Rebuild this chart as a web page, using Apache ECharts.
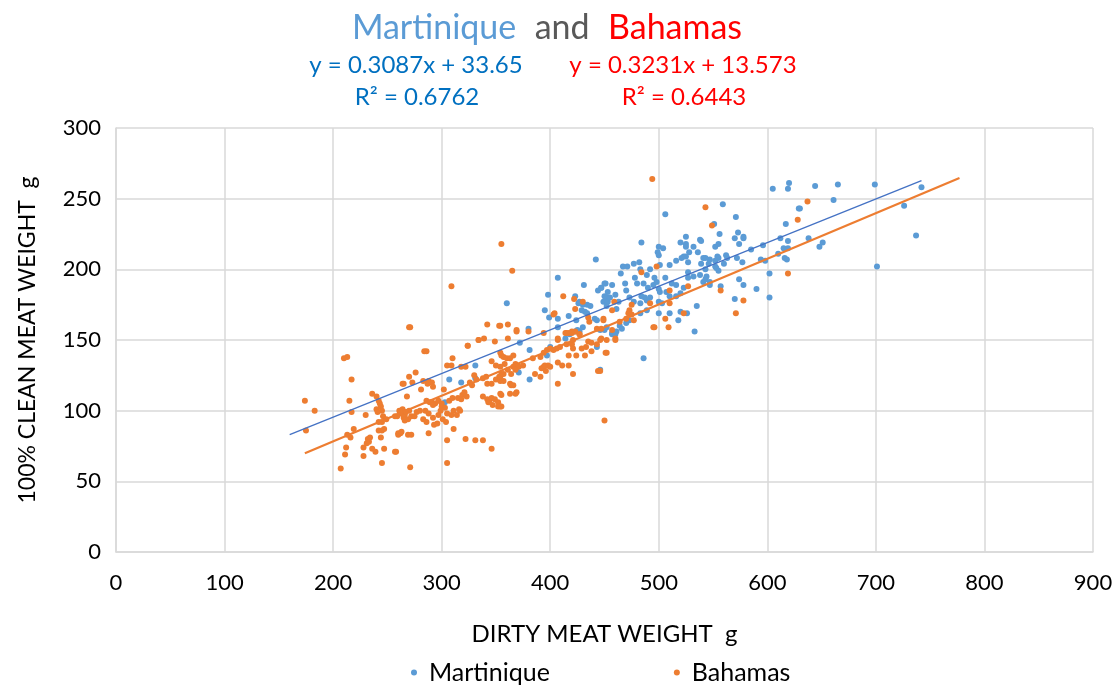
<!DOCTYPE html>
<html>
<head>
<meta charset="utf-8">
<script src="https://cdn.jsdelivr.net/npm/echarts@6/dist/echarts.min.js"></script>
<style>
  html, body { margin: 0; padding: 0; background: #fff; }
  #chart { width: 1117px; height: 690px; }
</style>
</head>
<body>
<div id="chart"></div>
<script>
// Dirty vs clean meat weight (g), one [dirty, clean] pair per animal
const martiniquePoints = [
  [307,122],[318,120],[331,123],[331,132],[303,106],
  [372,148],[381,143],[400,145],[397,139],[414,151],[418,154],[423,156],[427,156],[443,145],[446,129],
  [457,154],[461,156],[371,127],[369,130],[381,122],
  [442,207],[407,194],[398,182],[431,189],[444,185],[447,187],[451,190],[453,184],[452,180],[449,177],
  [423,181],[426,176],[427,177],[430,175],[434,175],[437,174],[434,169],[432,170],[429,171],[360,176],
  [395,171],[399,166],[407,165],[417,167],[407,159],[424,164],[380,158],[425,157],[430,159],
  [446,157],[450,157],[452,159],[443,164],[441,165],
  [506,239],[484,219],[525,223],[520,219],[525,218],[525,216],[532,216],[538,221],[539,220],[499,212],
  [500,210],[500,216],[504,215],[541,208],[523,209],[521,208],[525,209],[516,206],[510,203],[501,203],
  [492,200],[483,200],[477,204],[482,205],[467,202],[471,202],[527,205],[547,207],
  [527,198],[539,204],[546,204],
  [450,190],[457,189],[447,187],[450,181],[453,177],[455,180],[460,182],[452,174],[463,177],[461,172],
  [469,190],[470,185],[480,190],[478,194],[486,190],[490,187],[495,189],[498,191],[496,194],[500,186],
  [501,184],[507,184],[512,190],[516,189],[523,187],[527,194],[532,195],[538,196],[543,200],[541,191],
  [547,189],[544,195],
  [473,180],[477,177],[483,176],[484,181],[487,180],[489,178],[492,180],[500,177],[503,176],[510,181],
  [516,181],[520,183],[483,169],[489,171],[473,164],[470,162],[464,160],[466,158],[457,155],[460,154],
  [500,169],[510,169],[520,170],[526,169],[535,174],[518,164],[533,156],[486,137],
  [559,246],[571,237],[605,257],[619,257],[620,261],[629,243],[617,232],[619,220],[615,215],[619,215],
  [638,222],[551,232],[556,225],[555,218],[552,216],[570,222],[573,226],[578,223],[578,222],
  [574,218],[596,217],[543,208],[554,209],[555,208],[562,210],[563,208],[572,208],[577,205],
  [594,207],[610,211],[616,208],[618,207],[552,202],
  [552,206],[553,201],[555,199],[543,193],[547,191],[557,188],[574,193],[578,189],[590,186],[570,179],
  [602,197],[602,180],
  [644,259],[665,260],[699,260],[742,258],[661,249],[630,243],[726,245],[648,216],[651,219],[737,224],
  [701,202],[560,204],[585,214],[598,206],[612,222],[536,212],[528,212],[489,196],[465,197],[506,194]
];

const bahamasPoints = [
  [174,107],[175,86],[183,100],[210,137],[213,138],[217,122],[215,107],[217,99],[219,87],[213,83],
  [216,81],[212,74],[211,69],[207,59],[228,74],[228,68],[230,97],[232,80],[233,78],[231,77],
  [234,81],[236,73],[236,112],[239,71],[240,110],[242,107],[243,105],[244,103],[240,101],[245,100],
  [242,92],[245,92],[241,99],[246,96],[249,94],[242,86],[245,86],[247,87],[244,81],[245,63],
  [247,73],[258,71],[260,83],[262,84],[262,100],[264,98],[266,97],[264,119],[270,159],[268,110],
  [284,142],[286,142],[324,146],[334,150],[349,149],[310,137],[305,132],[309,132],[318,131],[322,131],
  [276,127],[270,124],[265,119],[273,120],[283,121],[288,121],[287,119],[291,120],[292,117],[302,115],
  [281,115],[286,107],[289,106],[291,106],[294,105],[297,107],[292,104],[300,105],[307,107],
  [310,109],[315,109],[319,111],[321,113],[323,110],[318,108],[328,118],[330,125],[326,120],[332,122],
  [338,123],[341,124],[346,135],[350,132],[355,139],[353,124],[350,122],[354,121],[342,119],
  [346,119],[338,110],[342,108],[344,107],[346,109],[349,108],[355,111],[352,106],[347,104],[343,106],
  [352,103],[355,103],[261,100],[264,101],[267,99],[270,100],[262,98],[257,96],[259,96],[265,95],
  [269,94],[272,96],[266,93],[275,96],[277,99],[280,100],[285,100],[288,98],[283,94],[292,95],
  [297,97],[299,100],[286,92],[293,90],[296,91],[300,103],[303,102],[301,94],[304,92],[305,98],
  [309,97],[311,100],[314,97],[316,101],[317,100],[311,87],[288,84],[260,84],[263,85],[269,83],
  [272,83],[257,71],[305,79],[322,80],[331,79],[338,79],[346,73],[271,60],[305,63],
  [309,188],[271,159],[342,161],[353,160],[334,150],[339,151],[324,146],[355,218],
  [369,156],[380,156],[394,155],[361,151],[354,141],[357,138],[360,137],[358,133],[354,131],[355,126],
  [354,124],[363,137],[366,139],[368,133],[366,131],[364,126],[371,131],[375,132],[368,129],[361,129],
  [357,126],[384,137],[391,138],[394,141],[397,143],[400,144],[403,143],[406,144],[409,145],[415,147],
  [420,147],[421,150],[407,150],[414,155],[417,155],[420,155],[423,156],[427,154],[435,149],[438,148],
  [443,147],[447,151],[452,150],[460,151],[433,145],[429,144],[424,139],[417,139],[421,144],[432,139],
  [438,142],[386,126],[391,124],[392,130],[394,131],[396,128],[395,132],[398,132],[400,131],[407,134],
  [411,132],[417,132],[421,126],[407,119],[354,112],[363,119],[364,118],[366,118],[363,112],[369,113],
  [368,112],[357,121],[354,103],[444,128],[446,128],[452,141],[450,93],
  [365,199],[412,181],[422,179],[423,172],[430,177],[404,169],[403,168],[436,163],[435,166],[449,165],
  [361,161],[354,160],[369,157],[407,151],[415,155],[420,156],[427,154],[443,158],[447,158],
  [498,202],[484,198],[459,177],[457,171],[449,164],[446,150],[457,157],[460,150],[451,141],[475,175],
  [473,171],[472,169],[475,168],[477,164],[470,165],[464,163],[492,176],[510,185],[527,188],[510,176],
  [523,169],[506,165],[496,159],[495,159],[509,159],
  [494,264],[543,244],[549,231],[637,248],[628,235],[557,185],[578,178],[571,169],[619,197]
];

// Linear fits: y = slope * x + intercept, drawn across [xStart, xEnd]
const martiniqueFit = [0.3087, 33.65];
const bahamasFit = [0.3231, 13.573];
const martiniqueFitRange = [160, 742];
const bahamasFitRange = [174, 777];

const xTicks = [0, 100, 200, 300, 400, 500, 600, 700, 800, 900];
const yTicks = [0, 50, 100, 150, 200, 250, 300];

function fitLine(coef, range) {
  return range.map(x => [x, coef[0] * x + coef[1]]);
}

const FONT = 'Lato, "Open Sans", sans-serif';
const chart = echarts.init(document.getElementById('chart'), null, { renderer: 'canvas' });

const eqStyle = color => ({ fontSize: 24, fontWeight: 'normal', color: color, fontFamily: FONT });

chart.setOption({
  animation: false,
  backgroundColor: '#ffffff',
  textStyle: { fontFamily: FONT },
  title: [
    {
      left: 542, top: 6, textAlign: 'center',
      text: '{m|Martinique}    {a|and}    {b|Bahamas}',
      textStyle: {
        fontWeight: 'normal',
        rich: {
          m: { fontSize: 34, fontWeight: 'normal', color: '#5B9BD5', fontFamily: FONT },
          a: { fontSize: 34, fontWeight: 'normal', color: '#595959', fontFamily: FONT },
          b: { fontSize: 34, fontWeight: 'normal', color: '#FF0000', fontFamily: FONT }
        }
      }
    },
    { left: 411, top: 48, textAlign: 'center', text: 'y = 0.3087x + 33.65', textStyle: eqStyle('#0070C0') },
    { left: 412, top: 80, textAlign: 'center', text: 'R² = 0.6762', textStyle: eqStyle('#0070C0') },
    { left: 678, top: 48, textAlign: 'center', text: 'y = 0.3231x + 13.573', textStyle: eqStyle('#FF0000') },
    { left: 679, top: 80, textAlign: 'center', text: 'R² = 0.6443', textStyle: eqStyle('#FF0000') }
  ],
  legend: {
    bottom: 0, left: 406,
    itemGap: 124,
    itemWidth: 6, itemHeight: 6,
    icon: 'circle',
    textStyle: { fontSize: 25, color: '#000', fontFamily: FONT, padding: [0, 0, 0, 7] },
    data: ['Martinique', 'Bahamas']
  },
  grid: { left: 116, right: 24, top: 128, bottom: 138 },
  xAxis: {
    type: 'value', min: xTicks[0], max: xTicks[xTicks.length - 1], interval: 100,
    name: 'DIRTY MEAT WEIGHT  g', nameLocation: 'middle', nameGap: 70,
    nameTextStyle: { fontSize: 24, color: '#000', fontFamily: FONT },
    axisLine: { lineStyle: { color: '#d9d9d9', width: 1.5 } },
    axisTick: { show: false },
    axisLabel: { fontSize: 22, color: '#000', margin: 20, fontFamily: FONT },
    splitLine: { show: true, lineStyle: { color: '#d9d9d9', width: 1.5 } }
  },
  yAxis: {
    type: 'value', min: yTicks[0], max: yTicks[yTicks.length - 1], interval: 50,
    name: '100% CLEAN MEAT WEIGHT  g', nameLocation: 'middle', nameGap: 77,
    nameTextStyle: { fontSize: 23, color: '#000', fontFamily: FONT },
    axisLine: { show: true, lineStyle: { color: '#d9d9d9', width: 1.5 } },
    axisTick: { show: false },
    axisLabel: { fontSize: 22, color: '#000', margin: 15, fontFamily: FONT },
    splitLine: { show: true, lineStyle: { color: '#d9d9d9', width: 1.5 } }
  },
  series: [
    {
      name: 'Martinique', type: 'scatter', data: martiniquePoints,
      symbolSize: 6, itemStyle: { color: '#5B9BD5', opacity: 1 }, z: 3
    },
    {
      name: 'Bahamas', type: 'scatter', data: bahamasPoints,
      symbolSize: 6, itemStyle: { color: '#ED7D31', opacity: 1 }, z: 4
    },
    {
      name: 'Martinique fit', type: 'line', data: fitLine(martiniqueFit, martiniqueFitRange),
      symbol: 'none', lineStyle: { color: '#4472C4', width: 1.3 }, z: 5, silent: true
    },
    {
      name: 'Bahamas fit', type: 'line', data: fitLine(bahamasFit, bahamasFitRange),
      symbol: 'none', lineStyle: { color: '#ED7D31', width: 2.2 }, z: 5, silent: true
    }
  ]
});
</script>
</body>
</html>
